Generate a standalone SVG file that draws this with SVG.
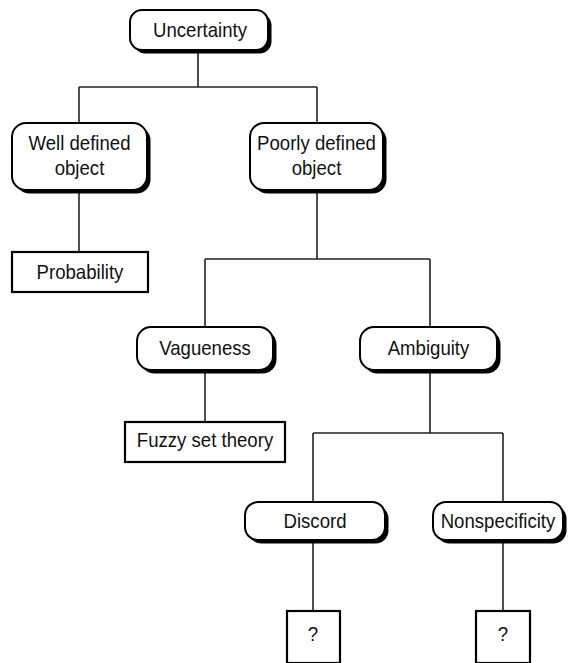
<svg xmlns="http://www.w3.org/2000/svg" width="575" height="663" viewBox="0 0 575 663">
<style>
.conn line{stroke:#222;stroke-width:1.6;fill:none}
.sh{fill:#000}
.rb{fill:#fff;stroke:#000;stroke-width:2}
.sq{fill:#fff;stroke:#000;stroke-width:2.2}
text{font-family:"Liberation Sans",Arial,sans-serif;font-size:20px;fill:#111;text-anchor:middle}
</style>
<rect width="575" height="663" fill="#fff"/>
<g id="connectors" class="conn">
<line x1="198" y1="50" x2="198" y2="87"/>
<line x1="79" y1="87" x2="317" y2="87"/>
<line x1="79" y1="87" x2="79" y2="123"/>
<line x1="317" y1="87" x2="317" y2="123"/>
<line x1="79" y1="190" x2="79" y2="252"/>
<line x1="317" y1="190" x2="317" y2="259"/>
<line x1="205" y1="259" x2="430" y2="259"/>
<line x1="205" y1="259" x2="205" y2="327"/>
<line x1="430" y1="259" x2="430" y2="327"/>
<line x1="205" y1="370" x2="205" y2="422"/>
<line x1="430" y1="370" x2="430" y2="433"/>
<line x1="313" y1="433" x2="503" y2="433"/>
<line x1="313" y1="433" x2="313" y2="502"/>
<line x1="503" y1="433" x2="503" y2="502"/>
<line x1="313" y1="540" x2="313" y2="611"/>
<line x1="503" y1="540" x2="503" y2="611"/>
</g>
<g id="uncertainty">
<rect class="sh" x="133.5" y="13.5" width="138" height="40" rx="12"/>
<rect class="rb" x="130" y="10" width="138" height="40" rx="12"/>
<text transform="translate(200,37) scale(0.93,1)">Uncertainty</text>
</g>
<g id="well-defined">
<rect class="sh" x="15.5" y="126.5" width="135" height="67" rx="14"/>
<rect class="rb" x="12" y="123" width="135" height="67" rx="14"/>
<text transform="translate(79.5,150) scale(0.93,1)">Well defined</text>
<text transform="translate(79.5,175) scale(0.93,1)">object</text>
</g>
<g id="poorly-defined">
<rect class="sh" x="253.5" y="126.5" width="133" height="67" rx="14"/>
<rect class="rb" x="250" y="123" width="133" height="67" rx="14"/>
<text transform="translate(316.5,150) scale(0.93,1)">Poorly defined</text>
<text transform="translate(316.5,175) scale(0.93,1)">object</text>
</g>
<g id="probability">
<rect class="sq" x="12" y="252" width="136" height="40"/>
<text transform="translate(80,279) scale(0.93,1)">Probability</text>
</g>
<g id="vagueness">
<rect class="sh" x="140.5" y="330.5" width="136" height="43" rx="14"/>
<rect class="rb" x="137" y="327" width="136" height="43" rx="14"/>
<text transform="translate(205,355) scale(0.93,1)">Vagueness</text>
</g>
<g id="ambiguity">
<rect class="sh" x="363.5" y="330.5" width="137" height="43" rx="14"/>
<rect class="rb" x="360" y="327" width="137" height="43" rx="14"/>
<text transform="translate(428.5,355) scale(0.93,1)">Ambiguity</text>
</g>
<g id="fuzzy">
<rect class="sq" x="125" y="422" width="160" height="40"/>
<text transform="translate(205,447) scale(0.93,1)">Fuzzy set theory</text>
</g>
<g id="discord">
<rect class="sh" x="248.5" y="505.5" width="140" height="38" rx="13"/>
<rect class="rb" x="245" y="502" width="140" height="38" rx="13"/>
<text transform="translate(315,528) scale(0.93,1)">Discord</text>
</g>
<g id="nonspecificity">
<rect class="sh" x="436.5" y="505.5" width="130" height="38" rx="13"/>
<rect class="rb" x="433" y="502" width="130" height="38" rx="13"/>
<text transform="translate(498,528) scale(0.93,1)">Nonspecificity</text>
</g>
<g id="q1">
<rect class="sq" x="287" y="611" width="53" height="52"/>
<text transform="translate(313,641) scale(0.93,1)">?</text>
</g>
<g id="q2">
<rect class="sq" x="476" y="611" width="54" height="52"/>
<text transform="translate(503,641) scale(0.93,1)">?</text>
</g>
</svg>
